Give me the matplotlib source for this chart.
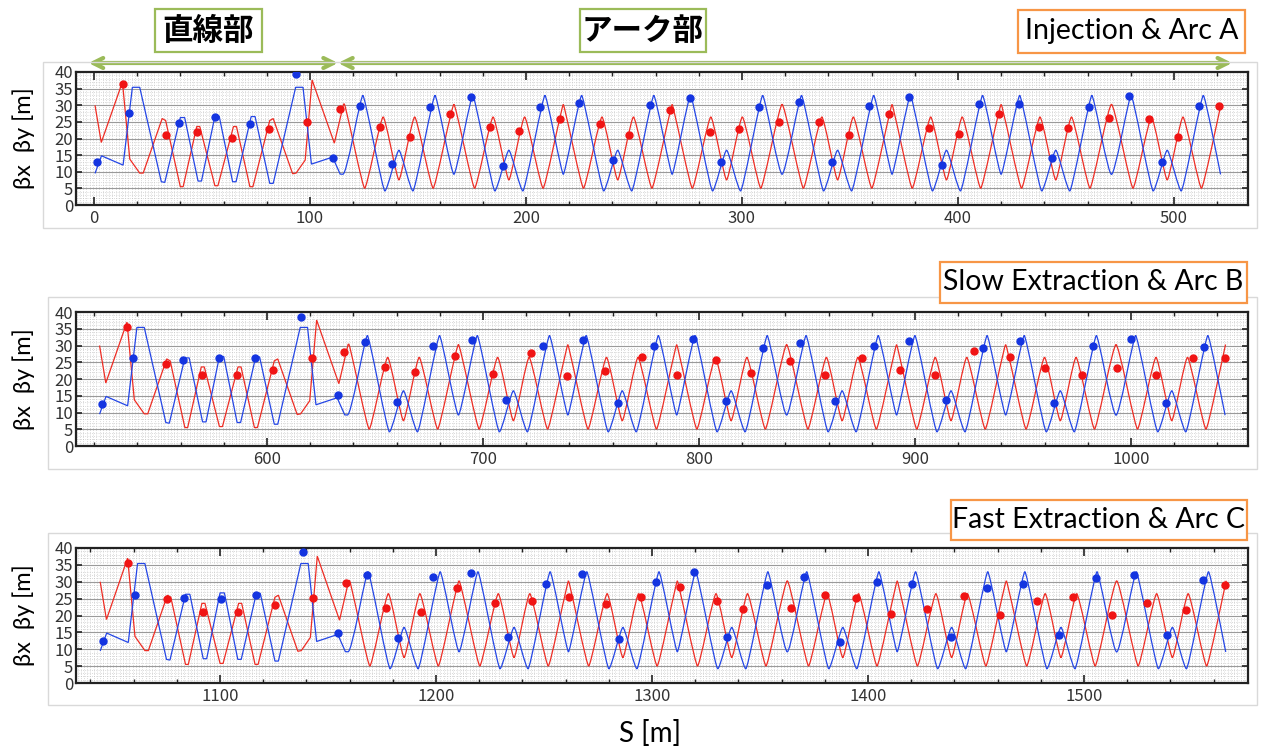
import numpy as np
import matplotlib.pyplot as plt
from matplotlib.patches import Rectangle, PathPatch
from matplotlib.path import Path
from matplotlib.ticker import MultipleLocator

plt.rcParams['font.family'] = ['Noto Sans CJK JP', 'DejaVu Sans']

# lattice functions for one third of the ring (same in every panel)
# straight section, s [m]
str_s_y = [0.5, 3.5, 13.5, 17.8, 21.2, 31.2, 32.8, 40.0, 42.0, 48.2, 49.8, 56.0, 58.0,
           64.2, 65.8, 72.8, 74.6, 81.4, 83.0, 93.4, 96.8, 100.7, 110.5, 114.0]
str_by = [9.5, 14.8, 12.0, 35.4, 35.4, 7.0, 6.8, 26.3, 26.3, 7.2, 7.2, 26.7, 26.7,
          7.0, 7.0, 26.6, 26.6, 6.5, 6.5, 35.4, 35.4, 12.3, 14.4, 9.3]
str_s_x = [0.5, 3.4, 13.2, 16.6, 21.2, 22.8, 31.6, 33.2, 40.0, 41.3, 47.6, 49.0, 56.0,
           57.4, 64.6, 66.0, 72.2, 73.6, 81.4, 83.0, 92.0, 93.6, 97.8, 101.0, 111.3, 115.6]
str_bx = [30.0, 18.8, 37.0, 13.8, 9.6, 9.6, 26.0, 25.4, 5.5, 5.5, 23.6, 23.6, 5.8,
          5.8, 23.6, 23.6, 5.5, 5.5, 25.4, 26.0, 9.4, 9.6, 13.5, 37.6, 18.6, 30.4]

# arc: centres of the 8 arc cells and the shape of one cell around its centre
cell_centres = [141.2, 192.1, 242.5, 292.9, 344.3, 394.7, 445.3, 496.9]
cell_ds_y = [-24.7, -17.3, -16.1, -7.2, -5.8, -0.6, 0.6, 5.8, 7.2, 16.1, 17.3, 24.7]
cell_by = [9.2, 33.0, 33.0, 4.2, 4.2, 16.5, 16.5, 4.2, 4.2, 33.0, 33.0, 9.2]
cell_ds_x = [-24.9, -16.5, -15.2, -8.0, -6.6, -0.6, 0.6, 6.6, 8.0, 15.2, 16.5, 24.9]
cell_bx = [30.3, 5.0, 5.0, 26.5, 26.5, 7.5, 7.5, 26.5, 26.5, 5.0, 5.0, 30.3]

panel_offsets = [0.0, 522.0, 1044.0]
panel_xmin = [-8.3, 511.6, 1033.3]
panel_names = ['Injection & Arc A', 'Slow Extraction & Arc B', 'Fast Extraction & Arc C']

# measured points (s, beta)
dots_x = [
    [[13.3, 36.4], [33.3, 21.0], [47.8, 22.0], [64.1, 20.3], [81.1, 22.9], [98.8, 25.1],
     [113.8, 28.8], [132.6, 23.6], [146.5, 20.6], [165.0, 27.3], [183.5, 23.6], [196.7, 22.4],
     [215.8, 25.9], [234.4, 24.3], [247.6, 21.0], [266.7, 28.6], [285.2, 22.0], [298.5, 22.9],
     [317.0, 24.9], [335.5, 24.9], [349.4, 21.2], [368.2, 27.3], [386.4, 23.2], [400.6, 21.4],
     [419.0, 27.4], [437.6, 23.6], [451.1, 23.1], [469.9, 26.3], [488.4, 25.9], [502.0, 20.4],
     [521.1, 29.9]],
    [[535.3, 35.4], [553.2, 24.5], [570.0, 21.2], [586.2, 21.2], [602.9, 22.7], [620.7, 26.3],
     [635.8, 28.2], [654.6, 23.5], [668.5, 22.1], [687.0, 26.9], [704.6, 21.5], [722.2, 27.8],
     [738.9, 20.9], [756.5, 22.4], [773.6, 26.6], [789.8, 21.2], [807.9, 25.7], [824.1, 21.8],
     [842.1, 25.4], [858.3, 21.2], [875.5, 26.3], [893.1, 22.7], [909.3, 21.2], [927.3, 28.4],
     [944.0, 26.6], [960.2, 23.3], [977.3, 21.2], [993.5, 23.3], [1011.6, 21.2], [1028.7, 26.3],
     [1043.5, 26.3]],
    [[1057.5, 35.7], [1075.3, 24.8], [1092.3, 20.9], [1108.5, 20.9], [1125.5, 23.0], [1143.2, 25.1],
     [1158.3, 29.6], [1176.9, 22.1], [1193.0, 21.0], [1209.7, 28.2], [1227.3, 23.7], [1244.4, 24.3],
     [1261.6, 25.5], [1278.7, 23.4], [1294.9, 25.5], [1313.0, 28.5], [1330.0, 24.3], [1342.0, 22.0],
     [1364.4, 22.2], [1380.0, 26.0], [1394.4, 25.2], [1410.6, 20.4], [1427.3, 21.9], [1444.4, 25.8],
     [1461.1, 20.1], [1478.2, 24.3], [1494.9, 25.5], [1513.0, 20.1], [1529.2, 23.7], [1547.2, 21.6],
     [1565.3, 29.1]],
]
dots_y = [
    [[1.5, 13.0], [16.2, 27.6], [39.3, 24.6], [56.0, 26.6], [72.2, 24.3], [93.7, 39.3],
     [110.7, 14.2], [123.0, 29.9], [138.2, 12.3], [155.4, 29.4], [174.7, 32.6], [189.3, 11.8],
     [206.6, 29.4], [224.8, 30.6], [240.2, 13.5], [257.5, 30.1], [276.0, 32.3], [290.3, 12.8],
     [308.0, 29.6], [326.2, 31.1], [341.5, 13.0], [358.9, 29.9], [377.4, 32.6], [392.4, 12.0],
     [409.8, 30.3], [428.4, 30.3], [443.4, 14.0], [460.7, 29.6], [479.2, 32.9], [494.3, 12.8],
     [511.6, 29.9]],
    [[523.5, 12.4], [538.1, 26.4], [561.3, 25.8], [577.9, 26.4], [594.4, 26.3], [615.7, 38.4],
     [632.7, 15.2], [645.4, 31.1], [660.0, 13.1], [676.9, 29.9], [694.9, 31.6], [710.6, 13.7],
     [727.8, 29.9], [746.3, 31.6], [762.5, 12.8], [779.2, 29.9], [797.2, 31.9], [812.5, 13.4],
     [829.6, 29.3], [846.8, 30.7], [862.9, 13.4], [880.9, 29.9], [897.2, 31.3], [914.4, 13.7],
     [931.5, 29.3], [948.6, 31.3], [964.4, 12.8], [982.4, 29.9], [1000.0, 31.9], [1016.2, 12.8],
     [1033.8, 29.6]],
    [[1046.0, 12.5], [1060.6, 26.1], [1083.3, 25.3], [1100.3, 24.8], [1116.7, 26.1], [1138.3, 38.7],
     [1154.8, 14.7], [1167.9, 32.1], [1182.6, 13.4], [1198.6, 31.5], [1216.2, 32.6], [1233.3, 13.6],
     [1250.9, 29.4], [1267.6, 32.4], [1284.7, 13.0], [1301.9, 30.0], [1319.4, 32.9], [1334.7, 13.6],
     [1353.2, 29.1], [1370.4, 31.5], [1387.0, 12.1], [1404.2, 30.0], [1420.4, 29.4], [1438.4, 13.6],
     [1455.1, 28.2], [1471.8, 29.4], [1488.4, 14.2], [1505.6, 31.2], [1523.1, 32.1], [1538.4, 14.2],
     [1555.1, 30.6]],
]

RED = '#ee2d24'
BLUE = '#2446e6'
GREEN = '#9bbb59'
ORANGE = '#f79646'

W, H = 1264, 748
fig = plt.figure(figsize=(W / 100, H / 100), dpi=100)


def frac(x0, y0, x1, y1):
    return [x0 / W, 1 - y1 / H, (x1 - x0) / W, (y1 - y0) / H]


def label_box(x0, y0, x1, y1, text, edge, size, family, weight='normal'):
    r = frac(x0, y0, x1, y1)
    fig.patches.append(Rectangle((r[0], r[1]), r[2], r[3], transform=fig.transFigure,
                                 facecolor='white', edgecolor=edge, lw=1.6))
    fig.text(r[0] + r[2] / 2, r[1] + r[3] / 2, text, ha='center', va='center',
             fontsize=size, family=family, color='black', weight=weight)


def lattice_path(s, b, n_lin):
    # first n_lin points joined by straight lines (drift/straight section),
    # the arc points used as control points of a quadratic bezier
    pts = np.column_stack([s, b])
    mids = (pts[:-1] + pts[1:]) / 2
    verts = [pts[0]]
    codes = [Path.MOVETO]
    for k in range(1, n_lin):
        verts.append(pts[k])
        codes.append(Path.LINETO)
    verts.append(mids[n_lin - 1])
    codes.append(Path.LINETO)
    for k in range(n_lin, len(pts) - 1):
        verts += [pts[k], mids[k]]
        codes += [Path.CURVE3, Path.CURVE3]
    verts.append(pts[-1])
    codes.append(Path.LINETO)
    return Path(verts, codes)


# lattice curve of one third, built from straight part + arc cells
arc_s_y = np.add.outer(cell_centres, cell_ds_y).ravel()
arc_by = np.tile(cell_by, len(cell_centres))
arc_s_x = np.add.outer(cell_centres, cell_ds_x).ravel()
arc_bx = np.tile(cell_bx, len(cell_centres))
sy = np.concatenate([str_s_y, arc_s_y])
by = np.concatenate([str_by, arc_by])
sx = np.concatenate([str_s_x, arc_s_x])
bx = np.concatenate([str_bx, arc_bx])

frames = [(43, 62, 1257, 228), (48, 297, 1257, 469), (48, 533, 1257, 705)]
axes_px = [(76, 72, 1248, 205), (76, 312, 1248, 446), (76, 548, 1248, 683)]
name_boxes = [(1018, 10, 1245, 53), (940, 262, 1247, 303), (951, 500, 1247, 540)]

for i in range(3):
    fx = frac(*frames[i])
    fig.patches.append(Rectangle((fx[0], fx[1]), fx[2], fx[3], transform=fig.transFigure,
                                 facecolor='none', edgecolor='#d9d9d9', lw=1.0))
    ax = fig.add_axes(frac(*axes_px[i]))
    xmin = panel_xmin[i]
    xmax = xmin + 542.6
    ax.set_xlim(xmin, xmax)
    ax.set_ylim(0, 40)

    # dotted background grid
    ax.vlines(np.arange(np.ceil(xmin), xmax, 1.5), 0, 40, colors='#b8b8b8', lw=0.5,
              linestyles=(0, (1, 2.2)), zorder=0)
    ax.hlines(np.arange(1, 40, 1), xmin, xmax, colors='#b8b8b8', lw=0.5,
              linestyles=(0, (1, 2.2)), zorder=0)
    ax.hlines(np.arange(5, 40, 5), xmin, xmax, colors='#9a9a9a', lw=0.8, zorder=0)

    off = panel_offsets[i]
    ax.add_patch(PathPatch(lattice_path(sx + off, bx, len(str_s_x)), fill=False,
                           edgecolor=RED, lw=0.9, zorder=2))
    ax.add_patch(PathPatch(lattice_path(sy + off, by, len(str_s_y)), fill=False,
                           edgecolor=BLUE, lw=0.9, zorder=2))
    dx = np.array(dots_x[i])
    dy = np.array(dots_y[i])
    ax.plot(dx[:, 0], dx[:, 1], 'o', color='#f01414', ms=5, zorder=3)
    ax.plot(dy[:, 0], dy[:, 1], 'o', color='#1434e0', ms=5, zorder=3)

    ax.xaxis.set_major_locator(MultipleLocator(100))
    ax.xaxis.set_minor_locator(MultipleLocator(20))
    ax.yaxis.set_major_locator(MultipleLocator(5))
    ax.tick_params(which='both', direction='in', top=True, right=True,
                   colors='#222222', labelcolor='#333333')
    ax.tick_params(which='major', length=6, width=1.2, labelsize=12)
    ax.tick_params(which='minor', length=3, width=1.0)
    ax.tick_params(axis='y', labelsize=12, pad=2, length=4)
    for sp in ax.spines.values():
        sp.set_linewidth(1.6)
        sp.set_color('#222222')

    ax_r = frac(*axes_px[i])
    fig.text(24 / W, ax_r[1] + ax_r[3] / 2, 'βx  βy [m]', rotation=90, ha='center',
             va='center', fontsize=17, family=['Lato', 'DejaVu Sans'])
    label_box(*name_boxes[i], panel_names[i], ORANGE, 20.5, ['Lato', 'DejaVu Sans'])

    if i == 0:
        # straight / arc section arrows
        arrow = dict(arrowstyle='<->', color=GREEN, lw=3, mutation_scale=18,
                     shrinkA=0, shrinkB=0)
        yy = 1 - 63 / H
        ax.annotate('', xy=(113.0, yy), xytext=(-2.5, yy),
                    xycoords=('data', 'figure fraction'),
                    textcoords=('data', 'figure fraction'), arrowprops=arrow,
                    annotation_clip=False)
        ax.annotate('', xy=(527.0, yy), xytext=(113.0, yy),
                    xycoords=('data', 'figure fraction'),
                    textcoords=('data', 'figure fraction'), arrowprops=arrow,
                    annotation_clip=False)

label_box(155, 9, 262, 52, '直線部', GREEN, 22, ['Noto Sans CJK JP', 'DejaVu Sans'], 'bold')
label_box(580, 9, 706, 52, 'アーク部', GREEN, 22, ['Noto Sans CJK JP', 'DejaVu Sans'], 'bold')

fig.text(650 / W, 1 - 733 / H, 'S [m]', ha='center', va='center', fontsize=20,
         family=['Lato', 'DejaVu Sans'])

fig.savefig('out.png', dpi=100)
